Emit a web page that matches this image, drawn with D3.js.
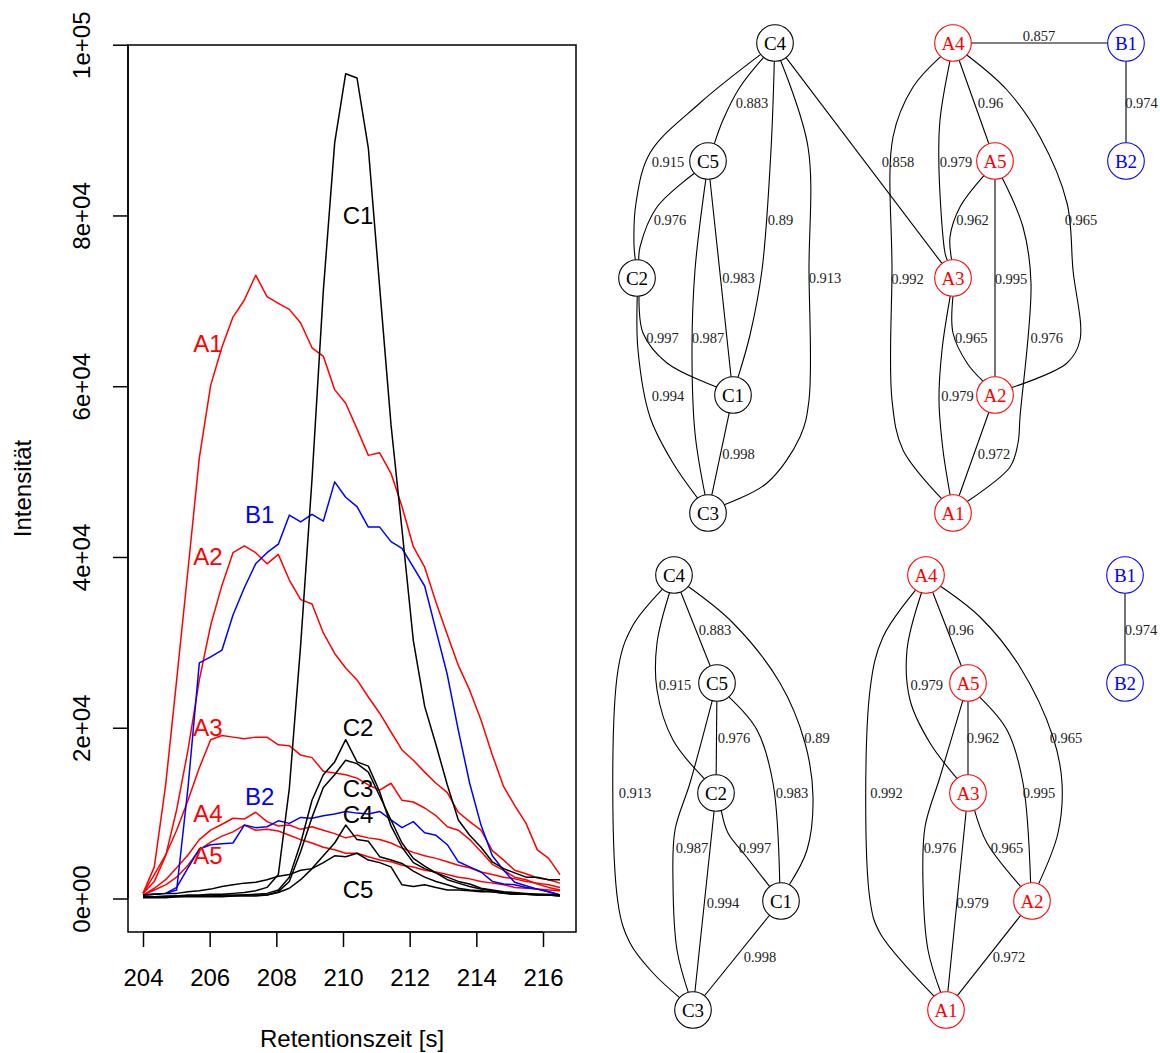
<!DOCTYPE html>
<html>
<head>
<meta charset="utf-8">
<script src="https://cdn.jsdelivr.net/npm/d3@7"></script>
<style>
  body { margin: 0; background: #fff; }
  svg { display: block; }
</style>
</head>
<body>
<svg id="fig" width="1160" height="1053"></svg>
<script>
// ---------- chromatogram data (retention time in s, intensity in counts) ----------
const times = [204.00, 204.34, 204.68, 205.01, 205.35, 205.69, 206.03, 206.37, 206.70, 207.04,
               207.38, 207.72, 208.06, 208.39, 208.73, 209.07, 209.41, 209.75, 210.08, 210.42,
               210.76, 211.10, 211.44, 211.77, 212.11, 212.45, 212.79, 213.13, 213.46, 213.80,
               214.14, 214.48, 214.82, 215.15, 215.49, 215.83, 216.17, 216.51];

const A1 = [600, 3700, 13300, 25600, 38500, 51600, 60100, 64600, 68100, 70100,
            73000, 70500, 69700, 69000, 67400, 64500, 63500, 59600, 58000, 55000,
            51900, 52200, 49800, 45900, 41200, 38800, 34700, 30900, 27300, 24400,
            20900, 16800, 13100, 10900, 8800, 5700, 4700, 2800];
const A2 = [600, 2000, 5000, 10400, 17400, 25600, 32000, 36700, 40500, 41300,
            40500, 39200, 40300, 37300, 35000, 34500, 31100, 28700, 27000, 25600,
            23600, 21700, 19500, 17400, 16200, 14800, 13500, 12400, 10100, 9000,
            8000, 5600, 4500, 3300, 2900, 2400, 2200, 1800];
const A3 = [600, 2800, 5100, 8000, 11500, 15300, 18600, 19100, 18900, 18700,
            18900, 18900, 18000, 17900, 16800, 16500, 14900, 14700, 14500, 14100,
            13300, 12700, 13500, 11500, 11300, 10600, 9700, 8400, 8000, 6900,
            5500, 4000, 3300, 2500, 2200, 1700, 1300, 1000];
const A4 = [400, 1200, 2200, 3600, 5100, 6900, 8000, 8700, 9400, 9300,
            10100, 9000, 8500, 8600, 8100, 8400, 8000, 7600, 7100, 7400,
            7100, 6900, 6500, 5900, 5400, 5000, 4700, 4300, 3900, 3600,
            3100, 2800, 2500, 2300, 2000, 1800, 1600, 1300];
const A5 = [400, 1000, 1600, 2500, 3900, 5700, 6600, 7300, 7800, 8600,
            8000, 8100, 7900, 7400, 6900, 6500, 6000, 5700, 5300, 5300,
            4900, 4500, 4300, 3900, 3700, 3300, 3100, 2800, 2500, 2300,
            2000, 1800, 1600, 1300, 1200, 1100, 1000, 900];
const B1 = [400, 500, 600, 1000, 13000, 27600, 28300, 29100, 33200, 36400,
            39200, 40500, 41500, 44900, 44100, 45000, 44200, 48800, 47000, 45900,
            43500, 43500, 41800, 41000, 38800, 36600, 31400, 26200, 19700, 13500,
            8600, 5000, 3300, 1900, 1500, 1100, 800, 400];
const B2 = [400, 500, 600, 1300, 3600, 5800, 6300, 6400, 6500, 8600,
            8300, 8400, 9100, 8800, 9500, 9400, 9700, 9900, 10200, 10000,
            9900, 10200, 9200, 8300, 9000, 7700, 7400, 6300, 4300, 3700,
            3100, 2000, 1700, 1600, 1300, 1100, 800, 400];
const C1 = [200, 200, 300, 300, 400, 400, 500, 500, 600, 700,
            900, 1300, 2800, 12900, 29700, 49100, 71200, 88500, 96600, 96100,
            87900, 71600, 55500, 43200, 30200, 22500, 18000, 13300, 9200, 7400,
            6000, 4300, 3500, 3000, 2500, 2500, 2200, 2200];
const C2 = [200, 200, 200, 300, 300, 300, 300, 400, 400, 400,
            500, 600, 1000, 2500, 6500, 11500, 14500, 16000, 18600, 16000,
            15500, 12500, 8500, 6000, 4200, 3500, 3000, 2500, 2000, 1700,
            1200, 1000, 800, 700, 600, 500, 500, 400];
const C3 = [200, 200, 200, 200, 300, 300, 300, 300, 300, 400,
            400, 400, 800, 2000, 5500, 9500, 13000, 14500, 16200, 15800,
            14800, 12000, 9200, 6500, 4700, 3800, 3000, 2200, 1800, 1400,
            1100, 900, 700, 600, 500, 500, 400, 400];
const C4 = [100, 100, 100, 200, 200, 200, 200, 200, 300, 300,
            300, 400, 700, 1200, 2200, 3500, 5000, 6500, 8600, 6900,
            6700, 4900, 4500, 4100, 3200, 2500, 2000, 1600, 1200, 1000,
            900, 800, 600, 500, 500, 400, 400, 300];
const C5 = [400, 500, 600, 600, 800, 900, 1100, 1400, 1600, 1800,
            1900, 2200, 2600, 2800, 3300, 3500, 4200, 5000, 4900, 5300,
            4500, 4200, 3700, 1600, 1400, 1600, 1300, 1000, 1000, 900,
            800, 800, 600, 500, 500, 400, 400, 300];

const traceNames = ["A1", "A2", "A3", "A4", "A5", "B1", "B2", "C1", "C2", "C3", "C4", "C5"];
const traceValues = [A1, A2, A3, A4, A5, B1, B2, C1, C2, C3, C4, C5];

// label anchors inside the chromatogram (time, intensity)
const labelTimes = [205.95, 205.95, 205.95, 205.95, 205.95, 207.5, 207.5, 210.45, 210.45, 210.45, 210.45, 210.45];
const labelLevels = [65000, 40000, 20000, 10000, 5000, 45000, 12000, 80000, 20000, 12900, 9800, 1000];

const xTicks = [204, 206, 208, 210, 212, 214, 216];
const yTicks = [0, 20000, 40000, 60000, 80000, 100000];
const yTickLabels = ["0e+00", "2e+04", "4e+04", "6e+04", "8e+04", "1e+05"];

// ---------- correlation networks ----------
const edgesUpper = [
  ["C4", "C5", 0.883], ["C4", "C2", 0.915], ["C4", "C1", 0.89], ["C4", "C3", 0.913], ["C4", "A3", 0.858],
  ["C5", "C2", 0.976], ["C5", "C3", 0.987], ["C5", "C1", 0.983], ["C2", "C1", 0.997], ["C2", "C3", 0.994],
  ["C1", "C3", 0.998], ["A4", "B1", 0.857], ["B1", "B2", 0.974], ["A4", "A1", 0.992], ["A4", "A3", 0.979],
  ["A4", "A5", 0.96], ["A4", "A2", 0.965], ["A5", "A3", 0.962], ["A5", "A2", 0.995], ["A5", "A1", 0.976],
  ["A3", "A2", 0.965], ["A3", "A1", 0.979], ["A2", "A1", 0.972]
];
const edgesLower = [
  ["C4", "C3", 0.913], ["C4", "C2", 0.915], ["C4", "C5", 0.883], ["C4", "C1", 0.89], ["C5", "C2", 0.976],
  ["C5", "C1", 0.983], ["C5", "C3", 0.987], ["C2", "C1", 0.997], ["C2", "C3", 0.994], ["C1", "C3", 0.998],
  ["A4", "A1", 0.992], ["A4", "A3", 0.979], ["A4", "A5", 0.96], ["A4", "A2", 0.965], ["A5", "A3", 0.962],
  ["A5", "A2", 0.995], ["A5", "A1", 0.976], ["A3", "A1", 0.979], ["A3", "A2", 0.965], ["A2", "A1", 0.972],
  ["B1", "B2", 0.974]
];

// graph layouts (layout units, one unit = one pixel of the panel)
const layoutUpper = {
  C4: [175, 23], C5: [108, 141], C2: [37, 258], C1: [133, 375], C3: [108, 493],
  A4: [353, 23], A5: [395, 141], A3: [353, 258], A2: [395, 375], A1: [353, 493],
  B1: [526, 23], B2: [526, 141]
};
const layoutLower = {
  C4: [74, 25], C5: [117, 133], C2: [116, 243], C1: [181, 351], C3: [93, 460],
  A4: [326, 25], A5: [368, 133], A3: [368, 243], A2: [432, 351], A1: [346, 460],
  B1: [525, 25], B2: [525, 133]
};
// spline control points for the routed edges
const routesUpper = {
  "C4-C5": [[140, 67], [123, 100]],
  "C4-C2": [[100, 83], [50, 133], [36, 183], [34, 225]],
  "C4-C1": [[171, 130], [162, 250], [150, 315]],
  "C4-C3": [[208, 127], [209, 250], [209, 380], [200, 417], [167, 463]],
  "C5-C2": [[57, 187], [40, 227]],
  "C5-C3": [[95, 250], [92, 330], [95, 413]],
  "C2-C1": [[43, 313], [67, 343]],
  "C2-C3": [[38, 330], [50, 397], [73, 443]],
  "A4-A1": [[313, 67], [293, 117], [292, 250], [292, 380], [303, 430]],
  "A4-A3": [[340, 100], [339, 150], [345, 233]],
  "A4-A2": [[407, 70], [440, 117], [467, 183], [473, 250], [480, 320], [467, 343]],
  "A5-A3": [[360, 187], [350, 217]],
  "A5-A1": [[423, 207], [431, 263], [420, 397], [418, 423], [410, 447]],
  "A3-A2": [[353, 313], [367, 343]],
  "A3-A1": [[342, 330], [339, 380], [343, 430]]
};
const routesLower = {
  "C4-C3": [[32, 77], [18, 120], [18, 353], [30, 393], [53, 423]],
  "C4-C2": [[57, 93], [57, 140], [73, 190]],
  "C4-C1": [[133, 73], [180, 133], [205, 193], [213, 247], [207, 300]],
  "C5-C1": [[157, 180], [173, 233]],
  "C5-C3": [[90, 233], [75, 280], [73, 333], [77, 400]],
  "C2-C1": [[128, 283], [145, 305]],
  "A4-A1": [[283, 87], [270, 140], [270, 350], [280, 383]],
  "A4-A3": [[307, 100], [310, 150], [330, 193]],
  "A4-A2": [[380, 67], [420, 117], [453, 187], [462, 233], [458, 283]],
  "A5-A2": [[407, 180], [423, 233]],
  "A5-A1": [[340, 227], [325, 277], [323, 333], [328, 400]],
  "A3-A2": [[387, 293]]
};
const labelPosUpper = {
  "C4-C5": [152, 83], "C4-C2": [68, 142], "C4-C1": [180.5, 200], "C4-C3": [225, 258], "C4-A3": [298, 142],
  "C5-C2": [70, 200], "C5-C3": [108, 318], "C5-C1": [138.5, 258], "C2-C1": [62.5, 318], "C2-C3": [68, 376],
  "C1-C3": [138.5, 434], "A4-B1": [439, 16], "B1-B2": [541.5, 83], "A4-A1": [307.5, 259], "A4-A3": [356, 142],
  "A4-A5": [390.5, 83], "A4-A2": [481, 200], "A5-A3": [372.5, 200], "A5-A2": [411, 259], "A5-A1": [446.7, 318],
  "A3-A2": [371.3, 318], "A3-A1": [357.5, 376], "A2-A1": [394, 434]
};
const labelPosLower = {
  "C4-C3": [35, 243], "C4-C2": [75, 135], "C4-C5": [115, 80], "C4-C1": [217, 188], "C5-C2": [134, 188],
  "C5-C1": [192, 243], "C5-C3": [92, 298], "C2-C1": [155, 298], "C2-C3": [123, 353], "C1-C3": [160, 407],
  "A4-A1": [286.5, 243], "A4-A3": [326.7, 135], "A4-A5": [361, 80], "A4-A2": [466, 188], "A5-A3": [383, 188],
  "A5-A2": [439, 243], "A5-A1": [340, 298], "A3-A1": [372.5, 353], "A3-A2": [407, 298], "A2-A1": [409, 407],
  "B1-B2": [541, 80]
};

// ---------- drawing ----------
const svg = d3.select("#fig");
const groupColor = id => id[0] === "A" ? "#ff0000" : id[0] === "B" ? "#0000ff" : "#000000";
const sans = "'Liberation Sans', Arial, Helvetica, sans-serif";
const serif = "'Liberation Serif', 'Times New Roman', Times, serif";

// chromatogram panel
const x = d3.scaleLinear().domain([204, 216]).range([143, 543]);
const y = d3.scaleLinear().domain([0, 100000]).range([898.5, 44.7]);
const box = { left: 128, right: 576, top: 45, bottom: 932 };

const plot = svg.append("g");
plot.append("rect")
  .attr("x", box.left).attr("y", box.top)
  .attr("width", box.right - box.left).attr("height", box.bottom - box.top)
  .attr("fill", "none").attr("stroke", "#000").attr("stroke-width", 1.5);

const line = d3.line().x((d, i) => x(times[i])).y(d => y(d));
traceValues.forEach((vals, k) => {
  plot.append("path")
    .attr("d", line(vals))
    .attr("fill", "none")
    .attr("stroke", groupColor(traceNames[k]))
    .attr("stroke-width", 1.5)
    .attr("stroke-linejoin", "round");
});

traceNames.forEach((name, k) => {
  plot.append("text")
    .attr("x", x(labelTimes[k])).attr("y", y(labelLevels[k]))
    .attr("text-anchor", "middle").attr("dominant-baseline", "central")
    .attr("font-family", sans).attr("font-size", 24)
    .attr("fill", groupColor(name))
    .text(name);
});

// axes
const xAxis = d3.axisBottom(x).tickValues(xTicks).tickSize(15).tickPadding(8).tickFormat(d3.format("d"));
const gx = svg.append("g").attr("transform", `translate(0,${box.bottom})`).call(xAxis);
gx.select(".domain").attr("d", `M${x(204)},0H${x(216)}`).attr("stroke-width", 1.5);
gx.selectAll(".tick line").attr("stroke-width", 1.5);
gx.selectAll(".tick text").attr("font-family", sans).attr("font-size", 24).attr("fill", "#000")
  .attr("dy", null).attr("y", 54).attr("dominant-baseline", "alphabetic");

const yAxis = d3.axisLeft(y).tickValues(yTicks).tickSize(15).tickFormat((d, i) => yTickLabels[i]);
const gy = svg.append("g").attr("transform", `translate(${box.left},0)`).call(yAxis);
gy.select(".domain").attr("d", `M0,${y(0)}V${y(100000)}`).attr("stroke-width", 1.5);
gy.selectAll(".tick line").attr("stroke-width", 1.5);
gy.selectAll(".tick text")
  .attr("font-family", sans).attr("font-size", 24).attr("fill", "#000")
  .attr("x", null).attr("dy", null)
  .attr("text-anchor", "middle").attr("dominant-baseline", "alphabetic")
  .attr("transform", "translate(-38,0) rotate(-90)");

svg.append("text")
  .attr("x", (box.left + box.right) / 2).attr("y", 1047)
  .attr("text-anchor", "middle").attr("font-family", sans).attr("font-size", 24)
  .text("Retentionszeit [s]");
svg.append("text")
  .attr("transform", `translate(31,${(box.top + box.bottom) / 2}) rotate(-90)`)
  .attr("text-anchor", "middle").attr("font-family", sans).attr("font-size", 24)
  .text("Intensität");

// network panels
function drawNetwork(originX, originY, layout, edges, routes, labelPos) {
  const gx = d3.scaleLinear().domain([0, 560]).range([originX, originX + 560]);
  const gy = d3.scaleLinear().domain([0, 500]).range([originY, originY + 500]);
  const r = 18.3;
  const g = svg.append("g");
  const spline = d3.line().x(p => gx(p[0])).y(p => gy(p[1])).curve(d3.curveCatmullRom.alpha(0.5));

  const boundary = (c, toward) => {
    const dx = toward[0] - c[0], dy = toward[1] - c[1];
    const len = Math.hypot(dx, dy);
    return [c[0] + r * dx / len, c[1] + r * dy / len];
  };

  edges.forEach(([s, t, w]) => {
    const key = `${s}-${t}`;
    const via = routes[key] || [];
    const a = layout[s], b = layout[t];
    const start = boundary(a, via.length ? via[0] : b);
    const end = boundary(b, via.length ? via[via.length - 1] : a);
    g.append("path")
      .attr("d", spline([start, ...via, end]))
      .attr("fill", "none").attr("stroke", "#000").attr("stroke-width", 1.1);
    const lp = labelPos[key];
    g.append("text")
      .attr("x", gx(lp[0])).attr("y", gy(lp[1]))
      .attr("text-anchor", "middle").attr("dominant-baseline", "central")
      .attr("font-family", serif).attr("font-size", 14.5).attr("fill", "#222")
      .text(w);
  });

  Object.entries(layout).forEach(([id, p]) => {
    g.append("circle")
      .attr("cx", gx(p[0])).attr("cy", gy(p[1])).attr("r", r)
      .attr("fill", "#fff").attr("stroke", groupColor(id)).attr("stroke-width", 1.1);
    g.append("text")
      .attr("x", gx(p[0])).attr("y", gy(p[1]))
      .attr("text-anchor", "middle").attr("dominant-baseline", "central")
      .attr("font-family", serif).attr("font-size", 19).attr("fill", groupColor(id))
      .text(id);
  });
}

drawNetwork(600, 20, layoutUpper, edgesUpper, routesUpper, labelPosUpper);
drawNetwork(600, 550, layoutLower, edgesLower, routesLower, labelPosLower);
</script>
</body>
</html>
